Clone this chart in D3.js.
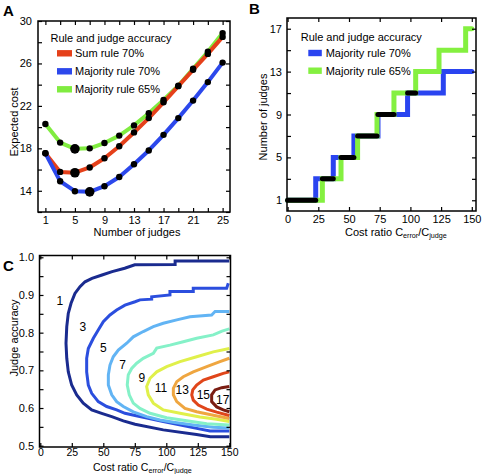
<!DOCTYPE html>
<html><head><meta charset="utf-8">
<script src="https://cdn.jsdelivr.net/npm/d3@7"></script>
<style>
html,body{margin:0;padding:0;background:#fff;}
svg{display:block;font-family:"Liberation Sans",Arial,Helvetica,sans-serif;}
</style></head>
<body>
<svg id="chart" width="483" height="474"></svg>
<script>
// ---------------- DATA ----------------
// Panel A
const judgesA = [1,3,5,7,9,11,13,15,17,19,21,23,25];
const sumRule70 = [17.53,15.78,15.70,16.20,17.06,18.20,19.50,20.85,22.34,23.86,25.40,26.90,28.50];
const majority70 = [17.53,14.90,13.96,13.90,14.43,15.30,16.50,17.80,19.27,20.85,22.50,24.24,26.08];
const majority65 = [20.29,18.54,17.95,18.00,18.50,19.20,20.16,21.30,22.56,23.90,25.50,27.10,28.86];
const seriesNamesA = ["Sum rule 70%","Majority rule 70%","Majority rule 65%"];
const xTicksA = [1,3,5,7,9,11,13,15,17,19,21,23,25];
const xLabelsA = [1,5,9,13,17,21,25];
const yTicksA = [12,14,16,18,20,22,24,26,28,30];
const yLabelsA = [14,18,22,26,30];

// Panel B : optimal number of judges vs cost ratio (step functions)
const levelsB70 = [1,3,5,7,9,11,13];
const breaksB70 = [22.9,37.2,54.0,73.6,97.7,126.8];
const levelsB65 = [1,3,5,7,9,11,13,15,17];
const breaksB65 = [28.3,43.5,57.0,72.8,86.6,104.3,123.3,145.0];
const seriesNamesB = ["Majority rule 70%","Majority rule 65%"];
const xTicksB = [0,25,50,75,100,125,150];
const yTicksB = [1,3,5,7,9,11,13,15,17];
const yLabelsB = [1,5,9,13,17];

// Panel C : contours of optimal number of judges [cost ratio, judge accuracy]
const contour1 = [[150,0.990],[107,0.990],[107,0.981],[75,0.980],[67,0.971],[57,0.962],[49,0.953],[41,0.944],[35.5,0.935],[31.5,0.922],[27.5,0.904],[24.4,0.878],[22.2,0.851],[21,0.816],[20.4,0.772],[21,0.732],[22.2,0.696],[24.9,0.661],[28.9,0.635],[34.1,0.613],[40.8,0.595],[48.7,0.586],[56.7,0.577],[65.9,0.566],[75.2,0.557],[97.6,0.542],[124,0.530],[135,0.524],[150,0.524]];
const contour3 = [[149.2,0.931],[147.9,0.918],[121.4,0.918],[121.4,0.909],[102.9,0.909],[102.9,0.900],[88.4,0.895],[88.4,0.889],[79.1,0.887],[75.2,0.882],[67.2,0.873],[60.6,0.860],[55.3,0.847],[50,0.829],[46,0.807],[42.1,0.785],[38.1,0.758],[36.8,0.732],[36.8,0.696],[38.1,0.661],[40.8,0.639],[46,0.617],[52.7,0.604],[60.6,0.595],[67.2,0.586],[75.2,0.580],[97.6,0.564],[124.1,0.546],[134.7,0.539],[150,0.539]];
const contour5 = [[150,0.856],[138.7,0.856],[136,0.847],[118.8,0.842],[108.3,0.834],[97.6,0.825],[89.7,0.816],[81.7,0.803],[73.8,0.789],[68.6,0.772],[61.9,0.754],[57.9,0.736],[55.3,0.714],[54,0.688],[54,0.661],[56.7,0.635],[60.6,0.617],[65.9,0.604],[73.8,0.590],[84.4,0.577],[95,0.568],[105.6,0.562],[121.4,0.555],[137.3,0.549],[150,0.547]];
const contour7 = [[150,0.810],[144.2,0.804],[137.3,0.794],[124.1,0.785],[113.5,0.776],[102.9,0.767],[92.4,0.759],[89.7,0.745],[81.7,0.732],[76.5,0.719],[72.5,0.705],[69.8,0.688],[69,0.661],[70.6,0.635],[73.8,0.613],[79.1,0.599],[87.1,0.586],[100.3,0.574],[116.2,0.566],[132.1,0.558],[150,0.555]];
const contour9 = [[150,0.758],[137.3,0.749],[124.1,0.736],[110.9,0.723],[100.3,0.710],[92.4,0.696],[87.1,0.679],[84.4,0.657],[85.7,0.635],[89.7,0.613],[97.6,0.595],[110.9,0.586],[126.7,0.576],[140,0.570],[150,0.564]];
const contour11 = [[150,0.732],[142.6,0.723],[132.1,0.710],[121.4,0.696],[113.5,0.683],[108.3,0.670],[105.6,0.652],[105.6,0.635],[108.3,0.617],[114.8,0.599],[124.1,0.590],[137.3,0.581],[150,0.572]];
const contour13 = [[150,0.696],[145.2,0.692],[137.3,0.683],[129.4,0.674],[124.1,0.661],[121,0.648],[120.2,0.635],[121.4,0.621],[125.4,0.608],[132.1,0.597],[140,0.589],[150,0.580]];
const contour15 = [[150,0.657],[144,0.654],[138.7,0.648],[136,0.635],[136,0.617],[140,0.603],[145.2,0.595],[150,0.590]];
const contourLabels = ["1","3","5","7","9","11","13","15","17"];
const labelCost = [15.6,33.7,50,65.4,80.5,95.8,112.7,129.4,144.8];
const labelAcc = [0.884,0.816,0.758,0.714,0.679,0.654,0.647,0.635,0.621];
const xTicksC = [0,25,50,75,100,125,150];
const yTicksC = [0.5,0.55,0.6,0.65,0.7,0.75,0.8,0.85,0.9,0.95,1.0];
const yLabelsC = [0.5,0.6,0.7,0.8,0.9,1.0];

// ---------------- DRAW ----------------
const svg = d3.select("#chart");
const FS = 11;

function frameAxes(g, x, y, fr, xT, xL, yT, yL, fmtY, pad, xPad, xFs) {
  const has = (arr, v) => arr.some(a => Math.abs(a - v) < 1e-9);
  const bx = g.append("g").attr("transform", `translate(0,${fr.y1})`)
    .call(d3.axisBottom(x).tickValues(xT).tickSize(-4).tickPadding(xPad)
      .tickFormat(v => has(xL, v) ? String(v) : ""));
  const tx = g.append("g").attr("transform", `translate(0,${fr.y0})`)
    .call(d3.axisTop(x).tickValues(xT).tickSize(-4).tickFormat(() => ""));
  const ly = g.append("g").attr("transform", `translate(${fr.x0},0)`)
    .call(d3.axisLeft(y).tickValues(yT).tickSize(-4).tickPadding(pad)
      .tickFormat(v => has(yL, v) ? fmtY(v) : ""));
  const ry = g.append("g").attr("transform", `translate(${fr.x1},0)`)
    .call(d3.axisRight(y).tickValues(yT).tickSize(-4).tickFormat(() => ""));
  [bx, tx, ly, ry].forEach(a => {
    a.select(".domain").remove();
    a.selectAll(".tick line").attr("stroke", "#000").attr("stroke-width", 1.2);
    a.selectAll("text").attr("font-size", FS).attr("fill", "#000")
      .attr("font-family", '"Liberation Sans",Arial,sans-serif');
  });
  bx.selectAll("text").attr("font-size", xFs);
  g.append("rect").attr("x", fr.x0).attr("y", fr.y0)
    .attr("width", fr.x1 - fr.x0).attr("height", fr.y1 - fr.y0)
    .attr("fill", "none").attr("stroke", "#000").attr("stroke-width", 1.5);
}

function costLabel(g, x0, yb, fs) {
  const t = g.append("text").attr("x", x0).attr("y", yb).attr("font-size", fs);
  t.append("tspan").text("Cost ratio C");
  t.append("tspan").text("error").attr("font-size", 7.2).attr("dy", 2);
  t.append("tspan").text("/C").attr("dy", -2);
  t.append("tspan").text("judge").attr("font-size", 7.2).attr("dy", 2);
}

// ===== Panel A =====
{
  const fr = {x0: 38, x1: 230, y0: 21, y1: 212};
  const x = d3.scaleLinear().domain([0, 26]).range([fr.x0, fr.x1]);
  const y = d3.scaleLinear().domain([12, 30]).range([fr.y1, fr.y0]);
  const g = svg.append("g");
  const colors = ["#e5401a", "#2c48ec", "#80ec40"];
  const series = [sumRule70, majority70, majority65];
  const order = [2, 0, 1];
  const line = d3.line().x((d, i) => x(judgesA[i])).y(d => y(d));
  order.forEach(k => {
    g.append("path").attr("d", line(series[k])).attr("fill", "none")
      .attr("stroke", colors[k]).attr("stroke-width", 4).attr("stroke-linejoin", "round");
  });
  order.forEach(k => {
    const mi = d3.minIndex(series[k]);
    g.selectAll(null).data(series[k]).join("circle")
      .attr("cx", (d, i) => x(judgesA[i])).attr("cy", d => y(d))
      .attr("r", (d, i) => i === mi ? 4.8 : 3.2).attr("fill", "#000");
  });
  frameAxes(g, x, y, fr, xTicksA, xLabelsA, yTicksA, yLabelsA, v => String(v), 6, 4, FS);
  g.append("text").attr("x", 50.5).attr("y", 41.5).attr("font-size", FS).text("Rule and judge accuracy");
  seriesNamesA.forEach((n, i) => {
    const cy = 53.3 + i * 18;
    g.append("rect").attr("x", 57).attr("y", cy - 3.2).attr("width", 15).attr("height", 6.4).attr("fill", colors[i]);
    g.append("text").attr("x", 75).attr("y", cy + 4).attr("font-size", FS).text(n);
  });
  g.append("text").attr("x", 137).attr("y", 236).attr("text-anchor", "middle").attr("font-size", FS).text("Number of judges");
  g.append("text").attr("transform", "translate(18,122) rotate(-90)").attr("text-anchor", "middle").attr("font-size", FS).text("Expected cost");
  g.append("text").attr("x", 3).attr("y", 16).attr("font-size", 15).attr("font-weight", "bold").text("A");
}

// ===== Panel B =====
{
  const fr = {x0: 287, x1: 476, y0: 18, y1: 211};
  const x = d3.scaleLinear().domain([0, 150]).range([287.6, 471.8]);
  const y = d3.scaleLinear().domain([0, 18]).range([fr.y1, fr.y0]);
  const g = svg.append("g");
  const colors = ["#2a44f0", "#84f040"];
  function stepPts(levels, breaks) {
    const pts = [[0, levels[0]]];
    breaks.forEach((b, i) => pts.push([b, levels[i + 1]]));
    pts.push([150, levels[levels.length - 1]]);
    return pts;
  }
  function intervals(levels, breaks) {
    const edges = [0, ...breaks, 150];
    return levels.map((l, i) => ({l, a: edges[i], b: edges[i + 1]}));
  }
  const line = d3.line().x(d => x(d[0])).y(d => y(d[1])).curve(d3.curveStepAfter);
  const p70 = stepPts(levelsB70, breaksB70), p65 = stepPts(levelsB65, breaksB65);
  g.append("path").attr("d", line(p70)).attr("fill", "none").attr("stroke", colors[0])
    .attr("stroke-width", 5).attr("stroke-linecap", "round");
  g.append("path").attr("d", line(p65)).attr("fill", "none").attr("stroke", colors[1])
    .attr("stroke-width", 5).attr("stroke-linecap", "round");
  const i70 = intervals(levelsB70, breaksB70), i65 = intervals(levelsB65, breaksB65);
  i70.forEach(s => {
    const o = i65.find(t => t.l === s.l);
    if (!o) return;
    const a = Math.max(s.a, o.a), b = Math.min(s.b, o.b);
    if (b > a) g.append("line").attr("x1", x(a)).attr("x2", x(b)).attr("y1", y(s.l)).attr("y2", y(s.l))
      .attr("stroke", "#000").attr("stroke-width", 5).attr("stroke-linecap", "round");
  });
  frameAxes(g, x, y, fr, xTicksB, xTicksB, yTicksB, yLabelsB, v => String(v), 5, 4, FS);
  g.append("text").attr("x", 300.7).attr("y", 40.7).attr("font-size", FS).text("Rule and judge accuracy");
  seriesNamesB.forEach((n, i) => {
    const cy = 53 + i * 17.7;
    g.append("rect").attr("x", 308.3).attr("y", cy - 3.2).attr("width", 13.5).attr("height", 6.4).attr("fill", colors[i]);
    g.append("text").attr("x", 325.7).attr("y", cy + 4).attr("font-size", FS).text(n);
  });
  costLabel(g, 345, 236, FS);
  g.append("text").attr("transform", "translate(267,117) rotate(-90)").attr("text-anchor", "middle").attr("font-size", FS).text("Number of judges");
  g.append("text").attr("x", 249).attr("y", 14).attr("font-size", 15).attr("font-weight", "bold").text("B");
}

// ===== Panel C =====
{
  const fr = {x0: 39.5, x1: 230.5, y0: 255.5, y1: 447};
  const x = d3.scaleLinear().domain([0, 150]).range([40.3, 229.3]);
  const y = d3.scaleLinear().domain([0.5, 1.0]).range([445.7, 257.3]);
  const g = svg.append("g");
  const contours = [contour1, contour3, contour5, contour7, contour9, contour11, contour13, contour15];
  const colors = ["#1a2b8f", "#2b4ede", "#62b4f4", "#85f1c8", "#e0f04a", "#efa640", "#e0461a", "#7b1d12"];
  const line = d3.line().x(d => x(d[0])).y(d => y(d[1]));
  contours.forEach((c, i) => {
    g.append("path").attr("d", line(c)).attr("fill", "none").attr("stroke", colors[i])
      .attr("stroke-width", 3).attr("stroke-linejoin", "miter");
  });
  contourLabels.forEach((t, i) => {
    g.append("text").attr("x", x(labelCost[i])).attr("y", y(labelAcc[i]))
      .attr("text-anchor", "middle").attr("dominant-baseline", "central")
      .attr("font-size", 12).text(t);
  });
  frameAxes(g, x, y, fr, xTicksC, xTicksC, yTicksC, yLabelsC, d3.format(".1f"), 5.5, 2, 10.5);
  costLabel(g, 93, 470.5, 10.5);
  g.append("text").attr("transform", "translate(18,338) rotate(-90)").attr("text-anchor", "middle").attr("font-size", FS).text("Judge accuracy");
  g.append("text").attr("x", 3).attr("y", 271).attr("font-size", 15).attr("font-weight", "bold").text("C");
}
</script>
</body></html>
